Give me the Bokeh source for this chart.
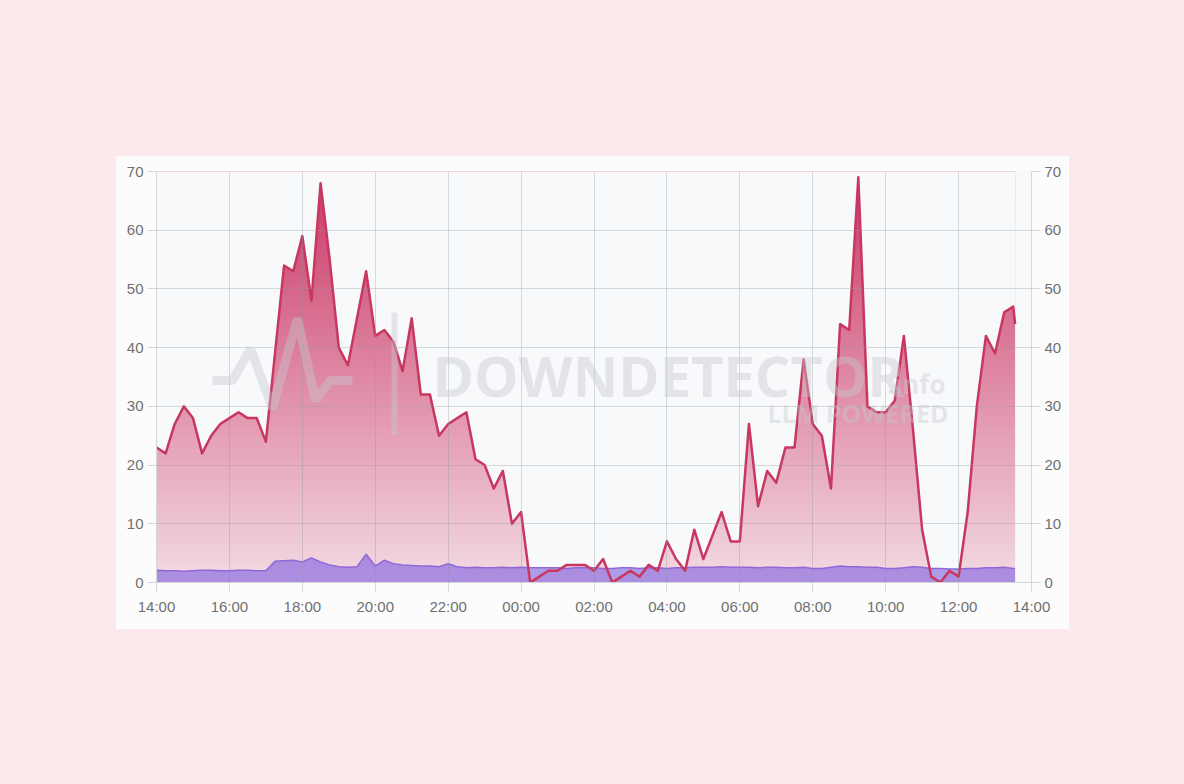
import numpy as np
from bokeh.plotting import figure
from bokeh.models import Range1d, LinearAxis, FixedTicker, Label, PolyAnnotation, Spacer
from bokeh.layouts import column, row
from bokeh.embed import file_html
from bokeh.resources import INLINE

# ---- data (15-minute samples starting 14:00, hours since 14:00) ----
hours = [i * 0.25 for i in range(95)] + [23.55]

reports = [23, 22, 27, 30, 28, 22, 25, 27, 28, 29,
           28, 28, 24, 39, 54, 53, 59, 48, 68, 55,
           40, 37, 45, 53, 42, 43, 41, 36, 45, 32,
           32, 25, 27, 28, 29, 21, 20, 16, 19, 10,
           12, 0, 1, 2, 2, 3, 3, 3, 2, 4,
           0, 1, 2, 1, 3, 2, 7, 4, 2, 9,
           4, 8, 12, 7, 7, 27, 13, 19, 17, 23,
           23, 38, 27, 25, 16, 44, 43, 69, 30, 29,
           29, 31, 42, 26, 9, 1, 0, 2, 1, 12,
           30, 42, 39, 46, 47, 44]

baseline = [2.1, 2.0, 2.0, 1.9, 2.0, 2.1, 2.1, 2.0, 2.0, 2.1,
            2.1, 2.0, 2.0, 3.6, 3.7, 3.8, 3.5, 4.2, 3.5, 3.0,
            2.7, 2.6, 2.7, 4.8, 2.8, 3.8, 3.2, 3.0, 2.9, 2.8,
            2.8, 2.7, 3.2, 2.7, 2.5, 2.6, 2.5, 2.5, 2.6, 2.5,
            2.6, 2.5, 2.5, 2.5, 2.5, 2.4, 2.5, 2.5, 2.5, 2.4,
            2.4, 2.5, 2.5, 2.4, 2.5, 2.5, 2.4, 2.5, 2.5, 2.6,
            2.6, 2.6, 2.7, 2.6, 2.6, 2.6, 2.5, 2.6, 2.6, 2.5,
            2.5, 2.6, 2.4, 2.4, 2.6, 2.8, 2.7, 2.7, 2.6, 2.6,
            2.4, 2.4, 2.5, 2.7, 2.6, 2.4, 2.4, 2.3, 2.3, 2.4,
            2.4, 2.5, 2.5, 2.6, 2.4, 2.4]

tick_hours = [0, 2, 4, 6, 8, 10, 12, 14, 16, 18, 20, 22, 24]
tick_labels = ["14:00", "16:00", "18:00", "20:00", "22:00", "00:00", "02:00",
               "04:00", "06:00", "08:00", "10:00", "12:00", "14:00"]
y_ticks = [0, 10, 20, 30, 40, 50, 60, 70]

# ---- styles ----
PAGE_BG = "#fde8ec"
CARD_BG = "#fcfcfd"
PLOT_BG = "#f8f9fb"
RED = "#c8375f"
AXIS_C = "#d6d7dc"
LABEL_C = "#707070"
FONT = "Liberation Sans"

p = figure(frame_width=875, frame_height=411,
           x_range=Range1d(0, 24), y_range=Range1d(0, 70),
           output_backend="svg", toolbar_location=None,
           min_border_left=41, min_border_right=38,
           min_border_top=16, min_border_bottom=47,
           background_fill_color=PLOT_BG, border_fill_color=CARD_BG)
p.outline_line_color = None

# gradient fill under the red curve: gradient image + mask above the curve
H = 420
t = np.linspace(0.0, 1.0, H)
bottom_c = np.array([243, 219, 228])
top_c = np.array([203, 55, 101])
img = np.empty((H, 2), dtype=np.uint32)
view = img.view(dtype=np.uint8).reshape((H, 2, 4))
for k in range(3):
    view[:, :, k] = (bottom_c[k] + (top_c[k] - bottom_c[k]) * t)[:, None].astype(np.uint8)
view[:, :, 3] = 255
p.image_rgba(image=[img], x=hours[0], y=0, dw=hours[-1] - hours[0], dh=70)
p.varea(x=hours, y1=reports, y2=70, fill_color=PLOT_BG)

# baseline (purple) area
p.varea(x=hours, y1=0, y2=baseline, fill_color="#7858e0", fill_alpha=0.58)
p.line(hours, baseline, line_color="#8f68d8", line_width=1.5)

# reports line
p.line(hours, reports, line_color=RED, line_width=2.5, line_join="round")

# grid on top
p.xgrid.ticker = FixedTicker(ticks=tick_hours)
p.ygrid.ticker = FixedTicker(ticks=y_ticks)
p.grid.grid_line_color = "#8f96a0"
p.grid.grid_line_alpha = 0.33
p.grid.level = "annotation"

# axes
p.xaxis.ticker = FixedTicker(ticks=tick_hours)
p.xaxis.major_label_overrides = {float(h): lab for h, lab in zip(tick_hours, tick_labels)}
p.yaxis.ticker = FixedTicker(ticks=y_ticks)
p.add_layout(LinearAxis(ticker=FixedTicker(ticks=y_ticks)), "right")
for ax in p.axis:
    ax.axis_line_color = AXIS_C
    ax.major_tick_line_color = AXIS_C
    ax.major_tick_out = 9
    ax.major_tick_in = 0
    ax.minor_tick_line_color = None
    ax.major_label_text_font = FONT
    ax.major_label_text_font_size = "15px"
    ax.major_label_text_color = LABEL_C
    ax.major_label_standoff = 4
p.xaxis.major_label_standoff = 6

# watermark
WM = "#c5c9d0"
WA = 0.42
p.add_layout(Label(x=276, y=208, x_units="screen", y_units="screen", text="DOWNDETECTOR",
                   text_font="Open Sans", text_font_style="bold", text_font_size="56px",
                   text_color=WM, text_alpha=WA, text_baseline="alphabetic"))
p.add_layout(Label(x=789, y=199, x_units="screen", y_units="screen", text=".info",
                   text_font="Open Sans", text_font_style="bold", text_font_size="26px",
                   text_color=WM, text_alpha=WA, text_baseline="alphabetic", text_align="right"))
p.add_layout(Label(x=792, y=170, x_units="screen", y_units="screen", text="LLM POWERED",
                   text_font="Open Sans", text_font_style="bold", text_font_size="25px",
                   text_color=WM, text_alpha=WA, text_baseline="alphabetic", text_align="right"))
hb_x = [56, 76, 94, 116, 141, 159, 174, 196]
hb_y = [202, 202, 234, 174, 264, 182, 202, 202]
p.add_layout(PolyAnnotation(xs=hb_x + hb_x[::-1], ys=hb_y + hb_y[::-1],
                            xs_units="screen", ys_units="screen",
                            fill_color=None, line_color=WM, line_alpha=WA, line_width=9))
p.add_layout(PolyAnnotation(xs=[238, 238], ys=[270, 148],
                            xs_units="screen", ys_units="screen",
                            fill_color=None, line_color=WM, line_alpha=WA, line_width=6))

layout = column(Spacer(height=155), row(Spacer(width=115), p))

html = file_html(layout, INLINE)
html = html.replace("</head>", "<style>html, body { background: %s; }</style></head>" % PAGE_BG, 1)
open("out.html", "w").write(html)
